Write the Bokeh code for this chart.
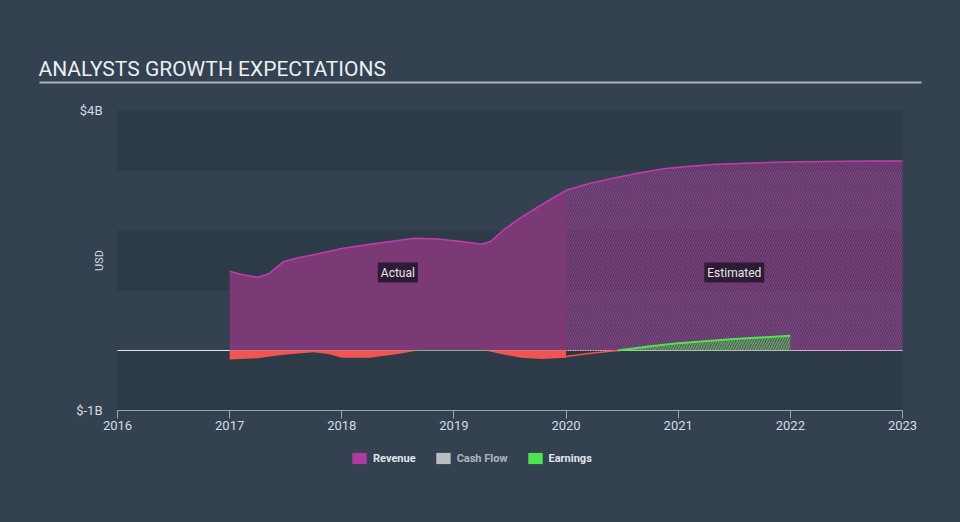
import numpy as np
from bokeh.plotting import figure
from bokeh.models import (FixedTicker, Label, Legend, LegendItem, Range1d, Arrow,
                          GlobalInlineStyleSheet)
from bokeh.embed import file_html
from bokeh.resources import INLINE

# ---------------- data (USD billions) ----------------
years = [2016, 2017, 2018, 2019, 2020, 2021, 2022, 2023]
year_labels = ["2016", "2017", "2018", "2019", "2020", "2021", "2022", "2023"]
y_ticks = [-1, 0, 1, 2, 3, 4]
y_tick_labels = ["$-1B", "", "", "", "", "$4B"]

rev_act_x = [2017.00, 2017.10, 2017.25, 2017.35, 2017.48, 2017.62, 2017.78, 2018.00,
             2018.25, 2018.45, 2018.65, 2018.85, 2019.05, 2019.25, 2019.33, 2019.45,
             2019.60, 2019.80, 2020.00]
rev_act_y = [1.32, 1.27, 1.22, 1.28, 1.48, 1.55, 1.61, 1.70,
             1.77, 1.82, 1.87, 1.86, 1.82, 1.77, 1.82, 2.02,
             2.22, 2.45, 2.67]

rev_est_x = [2020.00, 2020.20, 2020.42, 2020.65, 2020.87, 2021.10, 2021.31, 2021.60,
             2021.91, 2022.30, 2022.70, 2023.00]
rev_est_y = [2.67, 2.78, 2.87, 2.96, 3.03, 3.07, 3.10, 3.12,
             3.14, 3.15, 3.16, 3.16]

earn_act_x = [2017.00, 2017.25, 2017.48, 2017.75, 2017.88, 2018.00, 2018.25, 2018.50,
              2018.68, 2019.00, 2019.28, 2019.42, 2019.60, 2019.78, 2020.00]
earn_act_y = [-0.15, -0.13, -0.07, -0.03, -0.06, -0.12, -0.12, -0.06,
              0.01, 0.01, 0.01, -0.06, -0.12, -0.14, -0.12]

earn_est_x = [2020.00, 2020.20, 2020.46, 2020.75, 2021.00, 2021.50, 2022.00]
earn_est_y = [-0.10, -0.05, 0.00, 0.07, 0.12, 0.19, 0.245]

series_names = ["Revenue", "Cash Flow", "Earnings"]
swatch_colors = ["#b0399f", "#f2f2f2", "#4fe34f"]
title_text = "ANALYSTS GROWTH EXPECTATIONS"

# ---------------- styles / layout ----------------
BG = "#334151"
BAND = "#2d3a48"
REV_FILL = "#7b3976"
REV_LINE = "#c23caf"
RED = "#f25454"
GREEN = "#4fe34f"
TXT = "#d8dce0"
W, H = 960, 522
PL, PR, PT, PB = 117, 902, 110, 410   # plotting area edges in canvas pixels
x0, x1 = years[0], years[-1]
y0, y1 = y_ticks[0], y_ticks[-1]
ppx = (PR - PL) / (x1 - x0)
ppy = (PB - PT) / (y1 - y0)

# the frame covers the whole canvas; axes are pinned at the plotting-area edges
p = figure(width=W, height=H,
           x_range=Range1d(x0 - PL / ppx, x1 + (W - PR) / ppx),
           y_range=Range1d(y0 - (H - PB) / ppy, y1 + PT / ppy),
           output_backend="svg", toolbar_location=None, min_border=0,
           background_fill_color=BG, border_fill_color=BG, outline_line_color=None)
p.title.visible = False
p.stylesheets.append(GlobalInlineStyleSheet(css="body{background:%s;}" % BG))
p.grid.visible = False

p.xaxis.fixed_location = y0
p.xaxis.bounds = (x0, x1)
p.xaxis.ticker = FixedTicker(ticks=years)
p.xaxis.major_label_overrides = {y: l for y, l in zip(years, year_labels)}
p.xaxis.axis_line_color = "#9aa5b0"
p.xaxis.major_tick_line_color = "#9aa5b0"
p.xaxis.major_tick_in = 0
p.xaxis.major_tick_out = 8
p.xaxis.minor_tick_line_color = None
p.xaxis.major_label_standoff = 2
p.xaxis.major_label_text_font = "Roboto"
p.xaxis.major_label_text_font_size = "13px"
p.xaxis.major_label_text_color = TXT

p.yaxis.fixed_location = x0
p.yaxis.bounds = (y0, y1)
p.yaxis.ticker = FixedTicker(ticks=y_ticks)
p.yaxis.major_label_overrides = {t: l for t, l in zip(y_ticks, y_tick_labels)}
p.yaxis.axis_line_color = None
p.yaxis.major_tick_line_color = None
p.yaxis.minor_tick_line_color = None
p.yaxis.major_tick_in = 0
p.yaxis.major_tick_out = 0
p.yaxis.major_label_standoff = 15
p.yaxis.major_label_text_font = "Roboto"
p.yaxis.major_label_text_font_size = "13px"
p.yaxis.major_label_text_color = TXT

# alternating bands (every other 1B interval) inside the plotting area
p.quad(left=x0, right=x1, bottom=y_ticks[0::2], top=y_ticks[1::2],
       fill_color=BAND, line_color=None)

# zero line
p.line(x=[x0, x1], y=[0, 0], line_color="#e6e6e6", line_width=1)

# revenue
p.varea(x=rev_act_x, y1=0, y2=rev_act_y, fill_color=REV_FILL, fill_alpha=1)
p.varea(x=rev_est_x, y1=0, y2=rev_est_y, fill_color=REV_FILL, fill_alpha=0.4,
        hatch_pattern="right_diagonal_line", hatch_color="#b040a0", hatch_alpha=0.6,
        hatch_scale=5, hatch_weight=1.2)

# earnings actual
ea_x = np.array(earn_act_x)
ea_y = np.array(earn_act_y)
p.varea(x=ea_x, y1=0, y2=np.minimum(ea_y, 0), fill_color=RED, fill_alpha=1)
p.varea(x=ea_x, y1=0, y2=np.maximum(ea_y, 0), fill_color=GREEN, fill_alpha=0.8)

# earnings estimated
ee_x = np.array(earn_est_x)
ee_y = np.array(earn_est_y)
p.varea(x=ee_x, y1=0, y2=np.minimum(ee_y, 0), fill_color=RED, fill_alpha=0.1,
        hatch_pattern="right_diagonal_line", hatch_color="#222222", hatch_alpha=0.8,
        hatch_scale=5, hatch_weight=1.2)
p.varea(x=ee_x, y1=0, y2=np.maximum(ee_y, 0), fill_color=GREEN, fill_alpha=0.15,
        hatch_pattern="right_diagonal_line", hatch_color=GREEN, hatch_alpha=0.6,
        hatch_scale=5, hatch_weight=1.2)
p.line(x=ee_x, y=np.where(ee_y <= 0, ee_y, np.nan), line_color=RED, line_width=1.5)
p.line(x=ee_x, y=np.where(ee_y >= 0, ee_y, np.nan), line_color=GREEN, line_width=2)

# revenue lines
p.line(x=rev_act_x, y=rev_act_y, line_color=REV_LINE, line_width=1.5)
p.line(x=rev_est_x, y=rev_est_y, line_color=REV_LINE, line_width=1.5)

# labels Actual / Estimated
for txt, xx in [("Actual", 2018.5), ("Estimated", 2021.5)]:
    p.add_layout(Label(x=xx, y=1.3, text=txt, text_align="center", text_baseline="middle",
                       text_font="Roboto", text_font_size="12px", text_color="#e8e8e8",
                       background_fill_color="#1e1424", background_fill_alpha=0.8,
                       padding=3))

# title + underline (screen units: x from left, y up from bottom)
p.add_layout(Label(x=38, y=H - 68, x_units="screen", y_units="screen",
                   text=title_text, text_align="left", text_baseline="alphabetic",
                   text_font="Roboto", text_font_size="21px", text_color="#eceef0"))
p.add_layout(Arrow(end=None, x_start=39, y_start=H - 82, x_end=921, y_end=H - 82,
                   start_units="screen", end_units="screen",
                   line_color="#aab2ba", line_width=2))

# USD axis caption
p.add_layout(Label(x=99, y=H - 260, x_units="screen", y_units="screen", text="USD",
                   angle=np.pi / 2, text_align="center", text_baseline="middle",
                   text_font="Roboto", text_font_size="11px", text_color=TXT))

# legend (swatch-only renderers with zero-area data)
dummies = []
for c in swatch_colors:
    dummies.append(p.varea(x=[x0, x0], y1=[0, 0], y2=[0, 0], fill_color=c, fill_alpha=1))
dummies[1].visible = False
legend = Legend(items=[LegendItem(label=n, renderers=[r]) for n, r in zip(series_names, dummies)],
                orientation="horizontal", location=(350, H - 465), click_policy="hide",
                glyph_width=18, glyph_height=14, label_standoff=5, spacing=18,
                padding=0, margin=0, label_height=14, label_width=10,
                background_fill_alpha=0, border_line_color=None,
                label_text_font="Roboto", label_text_font_size="11px",
                label_text_font_style="bold", label_text_color="#e2e6ea",
                inactive_fill_color=BG, inactive_fill_alpha=0.3)
p.add_layout(legend)

open("out.html", "w").write(file_html(p, INLINE))
